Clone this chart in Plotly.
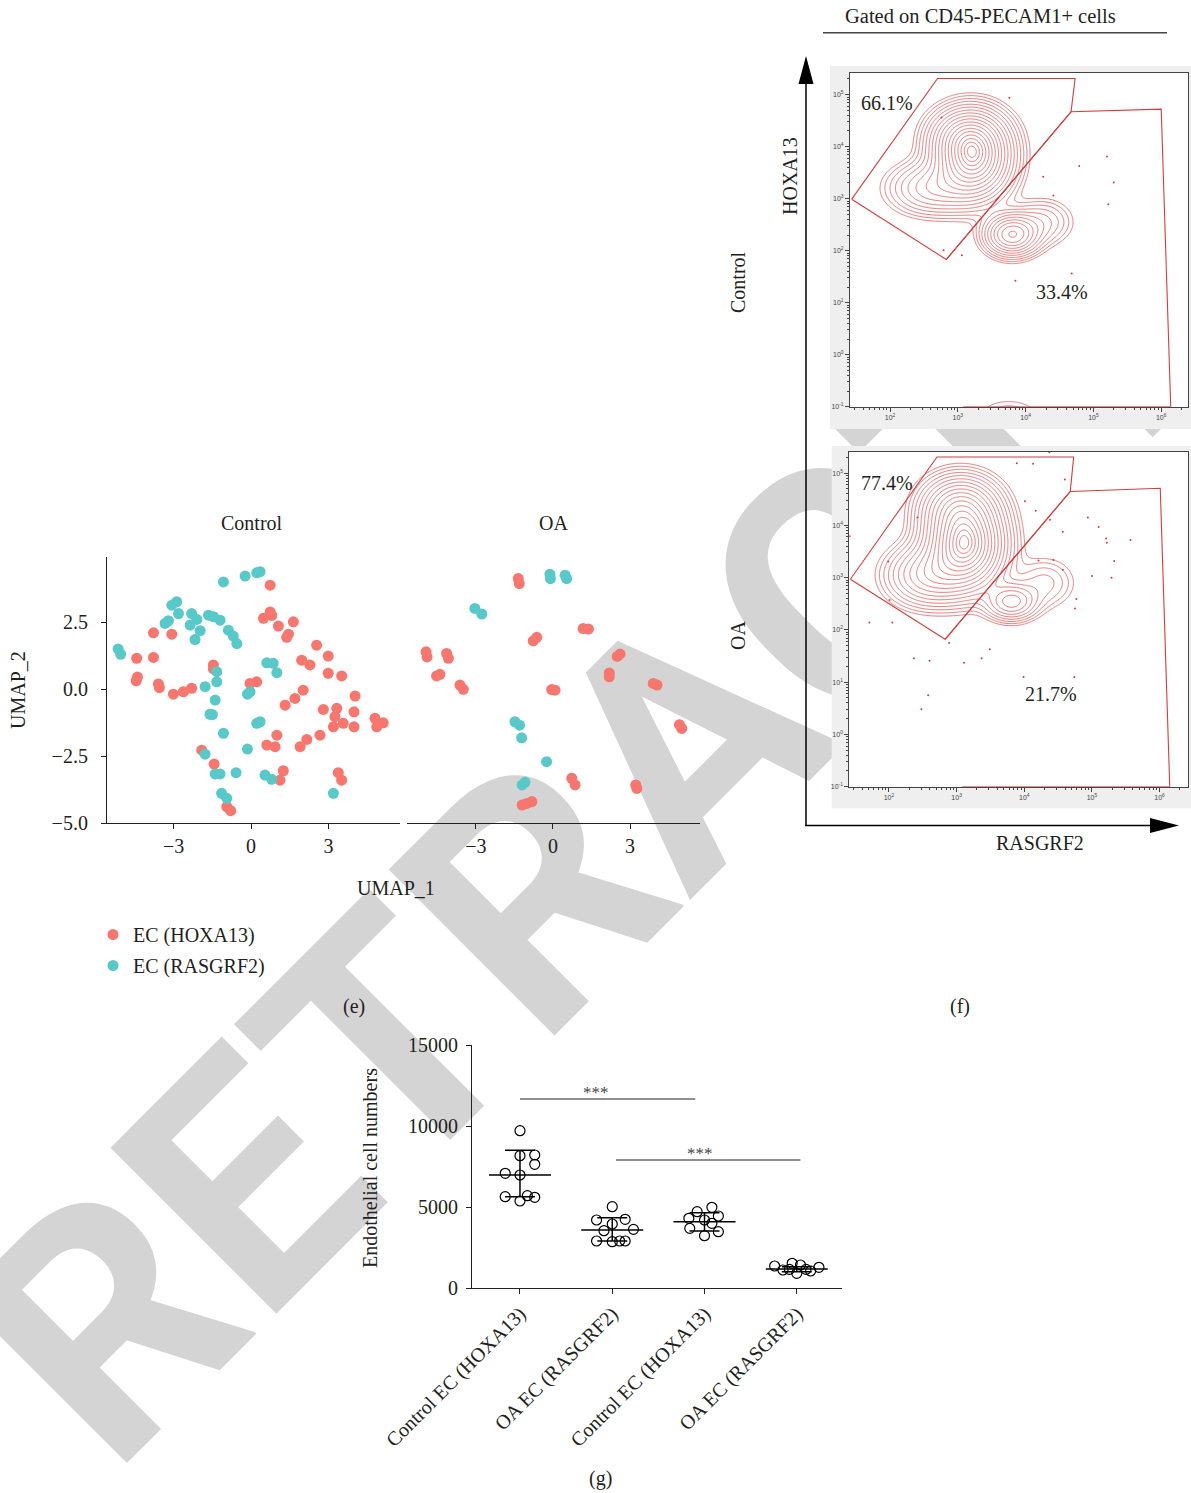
import numpy as np
import plotly.graph_objects as go

W, H = 1191, 1493
def px(x): return x / W
def py(y): return 1 - y / H

SERIF = "Liberation Serif"
TXT = "#231f20"
RED = "#F8766D"
TEAL = "#57C9C8"
FLOWRED = "#e05a5a"
GATERED = "#d93b3b"

# ---------------- (e) UMAP data ----------------
ctrl_hox_x = [0.74, 0.48, 0.74, 1.06, 1.38, 1.64, 2.54, 2.99, 1.96, 2.28, 2.99, 3.51, -3.78, -3.07,
              -4.43, -3.78, -4.45, -3.59, -3.01, -2.62, -2.30, -1.46, -0.04, 0.22, 4.03, 2.02, 1.70,
              1.32, 2.80, 3.32, 3.25, 3.57, 3.19, 3.99, 3.99, 4.80, 5.12, 4.87, 2.67, 2.16, 1.90,
              1.00, 0.61, 0.93, -1.91, -1.43, 1.25, 1.12, 3.38, 3.51, -0.94, -0.79, -1.46, -4.40,
              -3.55, 0.80, 1.45]
ctrl_hox_y = [3.88, 2.64, 2.88, 2.35, 1.93, 2.51, 1.64, 1.23, 1.08, 0.90, 0.59, 0.49, 2.10, 2.05,
              1.15, 1.18, 0.31, 0.19, -0.19, -0.10, 0.03, 0.90, 0.21, 0.27, -0.26, -0.04, -0.35,
              -0.60, -0.76, -0.72, -1.03, -1.28, -1.41, -0.85, -1.41, -1.09, -1.26, -1.41, -1.72,
              -1.88, -2.15, -1.72, -2.09, -2.15, -2.28, -2.80, -3.05, -3.40, -3.12, -3.40, -4.39,
              -4.54, 0.75, 0.45, 0.05, 2.75, 2.05]
ctrl_ras_x = [-5.15, -5.05, -1.07, -0.23, 0.22, 0.35, -3.07, -2.88, -2.81, -3.33, -3.20, -2.30,
              -2.36, -1.97, -2.17, -1.65, -1.20, -0.88, -0.69, -0.55, 0.61, 0.86, 1.00, -1.33,
              -1.33, -1.78, -0.14, -0.04, -1.39, -1.59, 0.22, 0.35, -1.07, -0.14, -1.78, -1.39,
              -1.20, -0.58, 0.54, 0.80, -1.14, -0.94, 3.19, -1.45, -2.10, -1.50]
ctrl_ras_y = [1.50, 1.30, 4.00, 4.22, 4.34, 4.38, 3.13, 3.26, 2.82, 2.45, 2.55, 2.82, 2.39, 2.18,
              1.85, 2.76, 2.57, 2.20, 1.98, 1.70, 0.98, 0.96, 0.61, 0.65, 0.27, 0.09, -0.19, -0.10,
              -0.41, -0.94, -1.28, -1.22, -1.65, -2.24, -2.43, -3.17, -3.17, -3.12, -3.21, -3.37,
              -3.89, -4.08, -3.89, 2.70, 2.60, -0.95]
oa_hox_x = [-1.35, -1.31, -0.63, -0.77, 1.17, 1.38, -4.94, -4.14, -4.07, -4.53, -4.40, -3.62,
            -3.49, 0.08, -0.05, 2.61, 2.50, 2.19, 2.19, 3.90, 4.05, 5.01, 4.92, 0.73, 0.86, 3.26,
            3.22, -1.02, -1.20, -0.82, -4.90]
oa_hox_y = [4.13, 3.94, 1.93, 1.80, 2.26, 2.24, 1.39, 1.33, 1.15, 0.49, 0.55, 0.15, -0.01, -0.04,
            -0.02, 1.31, 1.22, 0.46, 0.60, 0.21, 0.15, -1.47, -1.33, -3.33, -3.58, -3.71, -3.58,
            -4.27, -4.33, -4.20, 1.20]
oa_ras_x = [-0.12, -0.10, 0.47, 0.53, -3.04, -2.77, -1.48, -1.30, -1.22, -0.25, -1.09, -1.20]
oa_ras_y = [4.29, 4.12, 4.25, 4.12, 3.01, 2.80, -1.22, -1.35, -1.82, -2.71, -3.48, -3.58]
umap_xticks = [-3, 0, 3]
umap_yticks = [-5.0, -2.5, 0.0, 2.5]

# ---------------- (f) flow cytometry (log10 units) ----------------
# density components: centre x, centre y, spread x, spread y, weight
ctrl_cx = [3.22, 3.15, 2.62, 3.80, 4.25, 3.75, 4.50]
ctrl_cy = [3.78, 4.22, 3.20, 2.31, 2.55, -1.20, -1.15]
ctrl_sx = [0.30, 0.30, 0.35, 0.22, 0.25, 0.30, 0.18]
ctrl_sy = [0.42, 0.30, 0.28, 0.22, 0.25, 0.22, 0.15]
ctrl_w = [1.00, 0.35, 0.22, 0.50, 0.10, 0.05, 0.02]
oa_cx = [3.12, 3.05, 2.60, 3.81, 4.30, 3.96, 1.45]
oa_cy = [3.63, 4.35, 3.05, 2.54, 2.90, -1.10, -1.10]
oa_sx = [0.31, 0.31, 0.34, 0.22, 0.26, 0.13, 0.10]
oa_sy = [0.45, 0.33, 0.32, 0.20, 0.28, 0.12, 0.12]
oa_w = [1.00, 0.40, 0.30, 0.25, 0.07, 0.012, 0.012]

ctrl_gate_a_x = [1.435, 2.70, 4.73, 4.67, 2.83, 1.435]
ctrl_gate_a_y = [2.99, 5.31, 5.31, 4.67, 1.83, 2.99]
ctrl_gate_b_x = [2.83, 4.67, 6.00, 6.14, 3.08]
ctrl_gate_b_y = [1.83, 4.67, 4.72, -1.0, -1.0]
oa_gate_a_x = [1.43, 2.71, 4.73, 4.68, 2.83, 1.43]
oa_gate_a_y = [2.97, 5.31, 5.31, 4.65, 1.82, 2.97]
oa_gate_b_x = [2.83, 4.68, 6.01, 6.15, 3.08]
oa_gate_b_y = [1.82, 4.65, 4.71, -1.0, -1.0]

ctrl_out_x = [3.76, 2.76, 4.26, 4.79, 5.20, 5.30, 5.22, 4.41, 4.68, 3.85, 3.06, 2.79]
ctrl_out_y = [4.94, 4.56, 3.42, 3.63, 3.81, 3.31, 2.89, 3.06, 1.56, 1.42, 1.91, 2.01]
oa_out_x = [1.42, 1.99, 1.71, 2.05, 2.01, 2.42, 2.37, 2.60, 3.11, 3.37, 3.49, 2.58, 2.48, 2.89,
            3.99, 4.74, 4.01, 4.17, 4.38, 4.57, 4.57, 4.43, 4.21, 4.77, 4.75, 4.94, 5.10, 5.21,
            5.22, 5.57, 5.00, 5.29, 5.33, 4.13, 4.37, 4.60, 3.89]
oa_out_y = [3.79, 3.31, 2.14, 2.14, 2.57, 4.15, 1.46, 1.41, 1.37, 1.46, 1.63, 0.75, 0.48, 1.75,
            1.10, 1.10, 4.46, 4.28, 4.11, 3.88, 3.15, 3.34, 3.33, 2.59, 2.41, 4.15, 3.97, 3.75,
            3.67, 3.72, 3.03, 3.00, 3.32, 5.18, 5.40, 4.88, 5.19]
flow_decades_x = [2, 3, 4, 5, 6]
flow_decades_y = [-1, 0, 1, 2, 3, 4, 5]
pct_labels = ["66.1%", "33.4%", "77.4%", "21.7%"]

# ---------------- (g) cell numbers ----------------
groups = ["Control EC (HOXA13)", "OA EC (RASGRF2)", "Control EC (HOXA13)", "OA EC (RASGRF2)"]
g_vals = [
    [9711, 8167, 8210, 7635, 7080, 6975, 5636, 5370, 5698, 5599],
    [5020, 4198, 4239, 3951, 3539, 3621, 2901, 2860, 2901, 2901],
    [4710, 4981, 4302, 4444, 4198, 3992, 3683, 3477, 3230],
    [1358, 1111, 1523, 1420, 906, 1049, 1276, 1152, 1152],
]
g_jitter = [
    [0, 0, 0.16, 0.16, -0.16, 0, -0.16, 0, 0.08, 0.16],
    [0, -0.17, 0.14, 0, -0.09, 0.23, -0.17, 0, 0.08, 0.14],
    [-0.08, 0.08, -0.17, 0.15, 0, 0.08, -0.16, 0.15, 0],
    [-0.24, -0.15, -0.05, 0.04, 0, 0.15, 0.24, -0.08, 0.10],
]
g_mean = [6975, 3580, 4095, 1173]
g_err_up = [1525, 760, 555, 144]
g_err_dn = [1339, 679, 577, 165]
g_yticks = [0, 5000, 10000, 15000]
sig_pairs = [(0, 1.9, 11667), (1.04, 3.04, 7901)]

fig = go.Figure()

# UMAP traces
fig.add_trace(go.Scatter(x=ctrl_hox_x, y=ctrl_hox_y, mode="markers", name="EC (HOXA13)",
                         marker=dict(color=RED, size=11), xaxis="x", yaxis="y", legendgroup="h"))
fig.add_trace(go.Scatter(x=ctrl_ras_x, y=ctrl_ras_y, mode="markers", name="EC (RASGRF2)",
                         marker=dict(color=TEAL, size=11), xaxis="x", yaxis="y", legendgroup="r"))
fig.add_trace(go.Scatter(x=oa_hox_x, y=oa_hox_y, mode="markers", showlegend=False,
                         marker=dict(color=RED, size=11), xaxis="x2", yaxis="y2"))
fig.add_trace(go.Scatter(x=oa_ras_x, y=oa_ras_y, mode="markers", showlegend=False,
                         marker=dict(color=TEAL, size=11), xaxis="x2", yaxis="y2"))

# Flow contours
gx = np.arange(1.3, 6.5, 0.015)
gy = np.arange(-1.45, 5.5, 0.015)
GX, GY = np.meshgrid(gx, gy)

def ring_field(cx, cy, sx, sy, w):
    d = np.zeros_like(GX)
    for a, b, c, e, f in zip(cx, cy, sx, sy, w):
        d += f * np.exp(-0.5 * ((GX - a) / c) ** 2 - 0.5 * ((GY - b) / e) ** 2)
    d = np.clip(d / d.max(), 1e-30, 1)
    return -np.sqrt(-2 * np.log(d))

for (cx, cy, sx, sy, w, xa, ya) in [(ctrl_cx, ctrl_cy, ctrl_sx, ctrl_sy, ctrl_w, "x3", "y3"),
                                    (oa_cx, oa_cy, oa_sx, oa_sy, oa_w, "x4", "y4")]:
    fig.add_trace(go.Contour(x=gx, y=gy, z=ring_field(cx, cy, sx, sy, w), xaxis=xa, yaxis=ya,
                             contours=dict(start=-2.85, end=-0.12, size=0.155, coloring="lines"),
                             colorscale=[[0, FLOWRED], [1, FLOWRED]], line=dict(width=0.8),
                             showscale=False, hoverinfo="skip", showlegend=False))

for gxs, gys, xa, ya in [(ctrl_gate_a_x, ctrl_gate_a_y, "x3", "y3"), (ctrl_gate_b_x, ctrl_gate_b_y, "x3", "y3"),
                         (oa_gate_a_x, oa_gate_a_y, "x4", "y4"), (oa_gate_b_x, oa_gate_b_y, "x4", "y4")]:
    fig.add_trace(go.Scatter(x=gxs, y=gys, mode="lines", line=dict(color=GATERED, width=1.1),
                             xaxis=xa, yaxis=ya, showlegend=False, hoverinfo="skip"))
fig.add_trace(go.Scatter(x=ctrl_out_x, y=ctrl_out_y, mode="markers", marker=dict(color=GATERED, size=2),
                         xaxis="x3", yaxis="y3", showlegend=False))
fig.add_trace(go.Scatter(x=oa_out_x, y=oa_out_y, mode="markers", marker=dict(color=GATERED, size=2),
                         xaxis="x4", yaxis="y4", showlegend=False))

# (g) dot plot
for i, (vals, jit) in enumerate(zip(g_vals, g_jitter)):
    fig.add_trace(go.Scatter(x=[i + j for j in jit], y=vals, mode="markers", xaxis="x5", yaxis="y5",
                             marker=dict(symbol="circle-open", size=10, color="black",
                                         line=dict(width=1.2, color="black")), showlegend=False))
mx, my = [], []
for i, m in enumerate(g_mean):
    mx += [i - 0.336, i + 0.336, None]
    my += [m, m, None]
fig.add_trace(go.Scatter(x=mx, y=my, mode="lines", line=dict(color="black", width=1.5),
                         xaxis="x5", yaxis="y5", showlegend=False))
fig.add_trace(go.Scatter(x=list(range(4)), y=g_mean, mode="markers", marker=dict(size=1, opacity=0),
                         error_y=dict(type="data", array=g_err_up, arrayminus=g_err_dn, width=15,
                                      thickness=1.5, color="black"),
                         xaxis="x5", yaxis="y5", showlegend=False))
sx_, sy_ = [], []
for a, b, v in sig_pairs:
    sx_ += [a, b, None]
    sy_ += [v, v, None]
fig.add_trace(go.Scatter(x=sx_, y=sy_, mode="lines", line=dict(color=TXT, width=1.2),
                         xaxis="x5", yaxis="y5", showlegend=False))

axfont = dict(family=SERIF, size=20, color=TXT)
common = dict(showline=True, linecolor=TXT, linewidth=1.2, ticks="outside", ticklen=5,
              tickcolor=TXT, showgrid=False, zeroline=False, tickfont=axfont, automargin=False)

flow_minor_x = [np.log10(k) + d for d in range(1, 7) for k in range(2, 10)]
flow_minor_y = [np.log10(k) + d for d in range(-1, 6) for k in range(2, 10)]
flowfont = dict(family="Liberation Sans", size=7, color="#444")
flowax = dict(showline=True, linecolor="#444", linewidth=1, mirror=True, ticks="outside", ticklen=4,
              tickcolor="#444", showgrid=False, zeroline=False, tickfont=flowfont, automargin=False)

fig.update_layout(
    template="none",
    width=W, height=H, margin=dict(l=0, r=0, t=0, b=0, autoexpand=False),
    paper_bgcolor="white", plot_bgcolor="rgba(0,0,0,0)",
    xaxis=dict(domain=[px(107), px(400)], range=[-5.58, 5.77], tickvals=umap_xticks, anchor="y", **common),
    yaxis=dict(domain=[py(823), py(557)], range=[-5.0, 4.93], tickvals=umap_yticks, tickformat=".1f",
               anchor="x", ticklabelstandoff=9, **common),
    xaxis2=dict(domain=[px(407), px(700)], range=[-5.68, 5.72], tickvals=umap_xticks, anchor="y2", **common),
    yaxis2=dict(domain=[py(823), py(557)], range=[-5.0, 4.93], anchor="x2", visible=False),
    xaxis3=dict(domain=[px(850), px(1188)], range=[1.41, 6.395], anchor="y3", tickvals=flow_decades_x,
                ticktext=[f"10<sup>{d}</sup>" for d in flow_decades_x],
                minor=dict(tickvals=flow_minor_x, ticks="outside", ticklen=2, tickcolor="#444"), **flowax),
    yaxis3=dict(domain=[py(406.7), py(73.3)], range=[-1.0, 5.41], anchor="x3", tickvals=flow_decades_y,
                ticktext=[f"10<sup>{d}</sup>" for d in flow_decades_y],
                minor=dict(tickvals=flow_minor_y, ticks="outside", ticklen=2, tickcolor="#444"), **flowax),
    xaxis4=dict(domain=[px(849.3), px(1188)], range=[1.414, 6.42], anchor="y4", tickvals=flow_decades_x,
                ticktext=[f"10<sup>{d}</sup>" for d in flow_decades_x],
                minor=dict(tickvals=flow_minor_x, ticks="outside", ticklen=2, tickcolor="#444"), **flowax),
    yaxis4=dict(domain=[py(786.7), py(451.7)], range=[-1.0, 5.41], anchor="x4", tickvals=flow_decades_y,
                ticktext=[f"10<sup>{d}</sup>" for d in flow_decades_y],
                minor=dict(tickvals=flow_minor_y, ticks="outside", ticklen=2, tickcolor="#444"), **flowax),
    xaxis5=dict(domain=[px(472), px(842)], range=[-0.52, 3.49], tickvals=list(range(4)), ticktext=groups,
                tickangle=-45, anchor="y5", **common),
    yaxis5=dict(domain=[py(1288), py(1045)], range=[0, 15000], tickvals=g_yticks,
                ticktext=[str(v) for v in g_yticks], anchor="x5", ticklabelstandoff=4, **common),
    legend=dict(x=px(93), y=py(915), xanchor="left", yanchor="top", bgcolor="rgba(0,0,0,0)",
                font=dict(family=SERIF, size=20, color=TXT), tracegroupgap=2),
    showlegend=True,
)

shapes = [
    # watermark, below every plot layer
    dict(type="rect", xref="paper", yref="paper", x0=px(665), x1=px(675), y0=py(732), y1=py(722),
         line=dict(width=0), fillcolor="rgba(0,0,0,0)", layer="below",
         label=dict(text="RETRACTED", textangle=-45, textposition="middle center",
                    font=dict(family="Roboto", size=330, color="#d4d4d4", weight=700))),
    # flow frames (above the watermark, under the flow plots)
    dict(type="rect", xref="paper", yref="paper", x0=px(830), x1=px(1191), y0=py(429), y1=py(66),
         line=dict(width=0), fillcolor="#efefef", layer="below"),
    dict(type="rect", xref="paper", yref="paper", x0=px(850), x1=px(1188), y0=py(406.7), y1=py(73.3),
         line=dict(width=0), fillcolor="white", layer="below"),
    dict(type="rect", xref="paper", yref="paper", x0=px(831.7), x1=px(1191), y0=py(808.3), y1=py(446),
         line=dict(width=0), fillcolor="#efefef", layer="below"),
    dict(type="rect", xref="paper", yref="paper", x0=px(849.3), x1=px(1188), y0=py(786.7), y1=py(451.7),
         line=dict(width=0), fillcolor="white", layer="below"),
    # axis arrows
    dict(type="line", xref="paper", yref="paper", x0=px(806), x1=px(806), y0=py(825.5), y1=py(82),
         line=dict(color="black", width=1.5)),
    dict(type="path", xref="paper", yref="paper",
         path=f"M {px(806)},{py(56)} L {px(798.5)},{py(84)} L {px(813.5)},{py(84)} Z",
         fillcolor="black", line=dict(width=0)),
    dict(type="line", xref="paper", yref="paper", x0=px(805), x1=px(1152), y0=py(825.5), y1=py(825.5),
         line=dict(color="black", width=1.5)),
    dict(type="path", xref="paper", yref="paper",
         path=f"M {px(1179)},{py(825.5)} L {px(1150)},{py(818)} L {px(1150)},{py(833)} Z",
         fillcolor="black", line=dict(width=0)),
    # header underline
    dict(type="line", xref="paper", yref="paper", x0=px(823), x1=px(1167), y0=py(32.7), y1=py(32.7),
         line=dict(color="#444", width=1.5)),
]
fig.update_layout(shapes=shapes)

def ann(text, x, y, size=20, angle=0, color=TXT):
    return dict(text=text, x=px(x), y=py(y), xref="paper", yref="paper", showarrow=False,
                xanchor="center", yanchor="middle", textangle=angle,
                font=dict(family=SERIF, size=size, color=color))

annotations = [
    ann("Control", 252, 523), ann("OA", 553, 523),
    ann("UMAP_2", 18, 690, angle=-90), ann("UMAP_1", 396, 888),
    ann("(e)", 354, 1006), ann("(f)", 960, 1006), ann("(g)", 600, 1478),
    ann("Gated on CD45-PECAM1+ cells", 980, 16, size=20.5),
    ann("HOXA13", 790, 176, angle=-90), ann("RASGRF2", 1040, 843),
    ann("Control", 738, 282, angle=-90), ann("OA", 738, 636, angle=-90),
    ann(pct_labels[0], 886.7, 102.7), ann(pct_labels[1], 1061.7, 291.7),
    ann(pct_labels[2], 886.7, 482.7), ann(pct_labels[3], 1051, 694),
    ann("Endothelial cell numbers", 370, 1168, angle=-90),
    ann("***", 596, 1092, size=17, color="#444"), ann("***", 700, 1153, size=17, color="#444"),
]
fig.update_layout(annotations=annotations)

fig.write_html("out.html", config={"displayModeBar": False},
               post_script="document.body.style.margin='0px';")
